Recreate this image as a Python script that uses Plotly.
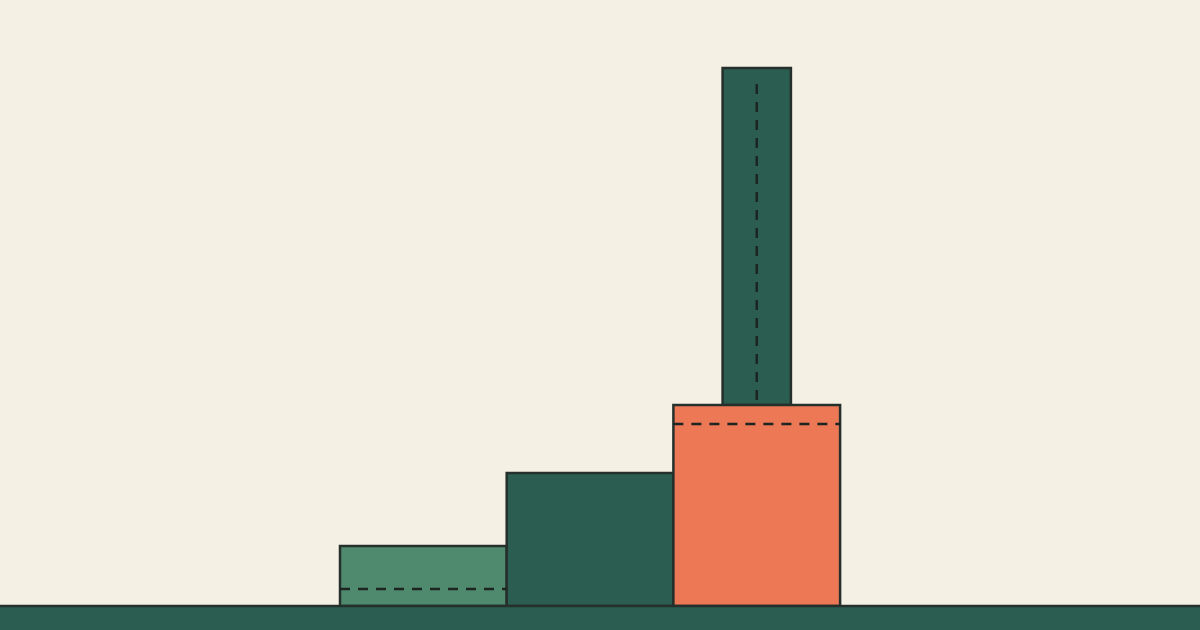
import plotly.graph_objects as go

# Data
steps_x = [0.5, 1.5, 2.5]
steps_h = [60, 133, 201]
steps_colors = ["#4f8a6f", "#2b5e50", "#ec7855"]
tower_x = [2.5]
tower_base = [201]
tower_h = [337]
dash1_x = [0.0, 1.0]
dash1_y = [17, 17]
dash3_x = [2.0, 3.0]
dash3_y = [182, 182]
vdash_x = [2.5, 2.5]
vdash_y = [206, 526]

OUT = "#25302c"
BG = "#f4f0e4"

fig = go.Figure()
fig.add_trace(go.Bar(x=tower_x, y=tower_h, base=tower_base, width=0.41,
                     marker=dict(color="#2b5e50", line=dict(color=OUT, width=2.5))))
fig.add_trace(go.Bar(x=steps_x, y=steps_h, width=1.0,
                     marker=dict(color=steps_colors, line=dict(color=OUT, width=2.5))))
for xs, ys in [(dash1_x, dash1_y), (dash3_x, dash3_y), (vdash_x, vdash_y)]:
    fig.add_trace(go.Scatter(x=xs, y=ys, mode="lines",
                             line=dict(color="#1c2522", width=2.5, dash="10px,8px")))

fig.add_shape(type="rect", xref="paper", x0=-0.01, x1=1.01, yref="y", y0=-40, y1=0,
              fillcolor="#2b5e50", line=dict(color=OUT, width=2.5), layer="above")

fig.update_layout(
    width=1200, height=630, margin=dict(l=0, r=0, t=0, b=0),
    paper_bgcolor=BG, plot_bgcolor=BG, showlegend=False, barmode="overlay",
    xaxis=dict(range=[-340/166.7, 860/166.7], visible=False, fixedrange=True),
    yaxis=dict(range=[-24, 606], visible=False, fixedrange=True),
)
fig.write_html("out.html", config={"displayModeBar": False},
               post_script="document.body.style.margin='0';document.body.style.background='#f4f0e4';")
